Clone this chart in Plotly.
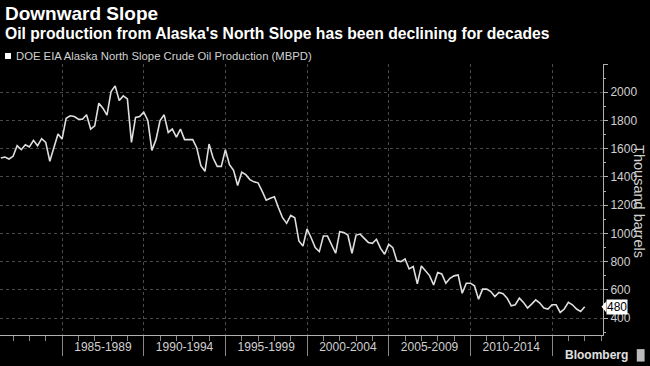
import plotly.graph_objects as go

# ---- data (quarterly, thousand barrels per day) ----
start_year = 1981.25
production = [
    1534, 1541, 1527, 1546, 1621, 1593, 1628, 1612, 1659, 1621, 1671, 1645, 1511, 1605, 1704,
    1668, 1816, 1833, 1828, 1809, 1809, 1840, 1739, 1762, 1922, 1887, 1838, 2005, 2045, 1941,
    1974, 1953, 1645, 1821, 1828, 1859, 1800, 1588, 1664, 1800, 1840, 1715, 1739, 1682, 1739,
    1664, 1664, 1664, 1605, 1480, 1440, 1633, 1534, 1475, 1475, 1593, 1487, 1447, 1339, 1433,
    1416, 1381, 1365, 1358, 1299, 1235, 1249, 1259, 1181, 1111, 1071, 1127, 1111, 946, 911,
    1031, 969, 899, 871, 981, 981, 918, 859, 1012, 1007, 988, 859, 988, 995, 965,
    936, 929, 958, 894, 852, 922, 899, 805, 800, 819, 748, 765, 642, 769, 734,
    701, 635, 722, 713, 647, 682, 699, 706, 576, 647, 647, 628, 534, 605, 605,
    588, 553, 581, 572, 541, 487, 494, 541, 511, 471, 499, 529, 506, 471, 464,
    494, 494, 440, 464, 511, 494, 464, 447, 480,
]
years = [start_year + 0.25 * i for i in range(len(production))]

period_bounds = [1985, 1990, 1995, 2000, 2005, 2010, 2015]
period_labels = ["1985-1989", "1990-1994", "1995-1999", "2000-2004", "2005-2009", "2010-2014"]
period_centers = [b + 2.5 for b in period_bounds[:-1]]
minor_years = [y for y in range(1982, 2019) if y not in period_bounds]

y_ticks = [400, 600, 800, 1000, 1200, 1400, 1600, 1800, 2000, 2200]
y_tick_text = ["400", "600", "800", "1000", "1200", "1400", "1600", "1800", "2000", ""]

series_name = "DOE EIA Alaska North Slope Crude Oil Production (MBPD)"
title = "Downward Slope"
subtitle = "Oil production from Alaska's North Slope has been declining for decades"
axis_title = "Thousand barrels"
last_value = production[-1]

X_RANGE = [1981.2, 2018.12]
Y_RANGE = [280, 2200]

FONT = "Liberation Sans, Arial, sans-serif"
GRID = "#4a4a4a"
AXIS = "#b0b0b0"
TXT = "#d0d0d0"

fig = go.Figure()
fig.add_trace(go.Scatter(
    x=years, y=production, mode="lines", name=series_name,
    line=dict(color="#dedede", width=1.6), showlegend=False,
))
# helper trace so the label axis is rendered
fig.add_trace(go.Scatter(
    x=[years[0]], y=[production[0]], xaxis="x2", mode="markers",
    marker=dict(opacity=0), hoverinfo="skip", showlegend=False,
))

fig.update_layout(
    width=650, height=366,
    margin=dict(l=0, r=47, t=64, b=31),
    paper_bgcolor="black", plot_bgcolor="black",
    font=dict(family=FONT, color=TXT),
    xaxis=dict(
        range=X_RANGE, tickmode="array", tickvals=period_bounds,
        ticktext=[""] * len(period_bounds),
        ticks="outside", ticklen=20, tickcolor="#888", tickwidth=1,
        showgrid=True, gridcolor=GRID, griddash="dot", gridwidth=1,
        showline=True, linecolor=AXIS, linewidth=1, zeroline=False,
        minor=dict(tickmode="array", tickvals=minor_years, ticks="outside",
                   ticklen=5, tickcolor="#888", showgrid=False),
    ),
    xaxis2=dict(
        range=X_RANGE, overlaying="x", side="bottom", tickmode="array",
        tickvals=period_centers, ticktext=period_labels, ticks="",
        showgrid=False, showline=False, zeroline=False,
        tickfont=dict(size=12, color=TXT, family=FONT),
        ticklabelstandoff=3,
    ),
    yaxis=dict(
        range=Y_RANGE, side="right", tickmode="array", tickvals=y_ticks,
        ticktext=y_tick_text, ticks="outside", ticklen=4, tickcolor=AXIS,
        showgrid=True, gridcolor=GRID, griddash="dot", gridwidth=1,
        showline=True, linecolor=AXIS, linewidth=1, zeroline=False,
        tickfont=dict(size=12, color=TXT, family=FONT),
        minor=dict(tickmode="linear", tick0=0, dtick=100, ticks="outside",
                   ticklen=2, tickcolor=AXIS, showgrid=False),
    ),
)

annotations = [
    dict(text="<b>" + title + "</b>", xref="paper", yref="paper", x=0.005, y=1.1865,
         xanchor="left", yanchor="middle", showarrow=False,
         font=dict(size=19, color="white", family=FONT)),
    dict(text="<b>" + subtitle + "</b>", xref="paper", yref="paper", x=0.005, y=1.112,
         xanchor="left", yanchor="middle", showarrow=False,
         font=dict(size=15.7, color="white", family=FONT)),
    dict(text=series_name, xref="paper", yref="paper", x=0.0232, y=1.0295,
         xanchor="left", yanchor="middle", showarrow=False,
         font=dict(size=11.3, color=TXT, family="Liberation Sans Narrow, " + FONT)),
    dict(text=axis_title, xref="paper", yref="paper", x=1.0763, y=0.494,
         xanchor="right", yanchor="middle", textangle=90, showarrow=False,
         font=dict(size=14.5, color=TXT, family=FONT)),
    dict(text=str(last_value), xref="paper", yref="y", x=1.0045, y=last_value,
         xanchor="left", yanchor="middle", showarrow=False, bgcolor="white",
         borderpad=0, font=dict(size=12, color="black", family=FONT)),
    dict(text="<b>Bloomberg</b>", xref="paper", yref="paper", x=1.045, y=-0.075,
         xanchor="right", yanchor="middle", showarrow=False,
         font=dict(size=12, color="#e0e0e0", family=FONT)),
]
fig.update_layout(annotations=annotations)

fig.update_layout(shapes=[
    # legend swatch
    dict(type="rect", xref="paper", yref="paper", x0=0.0083, x1=0.0182,
         y0=1.0185, y1=1.0406, fillcolor="white", line=dict(width=0)),
    # pointer of last-value tag
    dict(type="path", xref="paper", yref="y",
         path="M 0.9975,{v} L 1.0055,{a} L 1.0055,{b} Z".format(v=last_value, a=last_value + 40, b=last_value - 40),
         fillcolor="white", line=dict(width=0)),
    # logo mark
    dict(type="rect", xref="paper", yref="paper", x0=1.056, x1=1.069,
         y0=-0.098, y1=-0.052, fillcolor="#bbbbbb", line=dict(width=0)),
])

fig.write_html(
    "out.html",
    config={"displayModeBar": False},
    post_script="document.body.style.margin='0';document.body.style.overflow='hidden';",
)
